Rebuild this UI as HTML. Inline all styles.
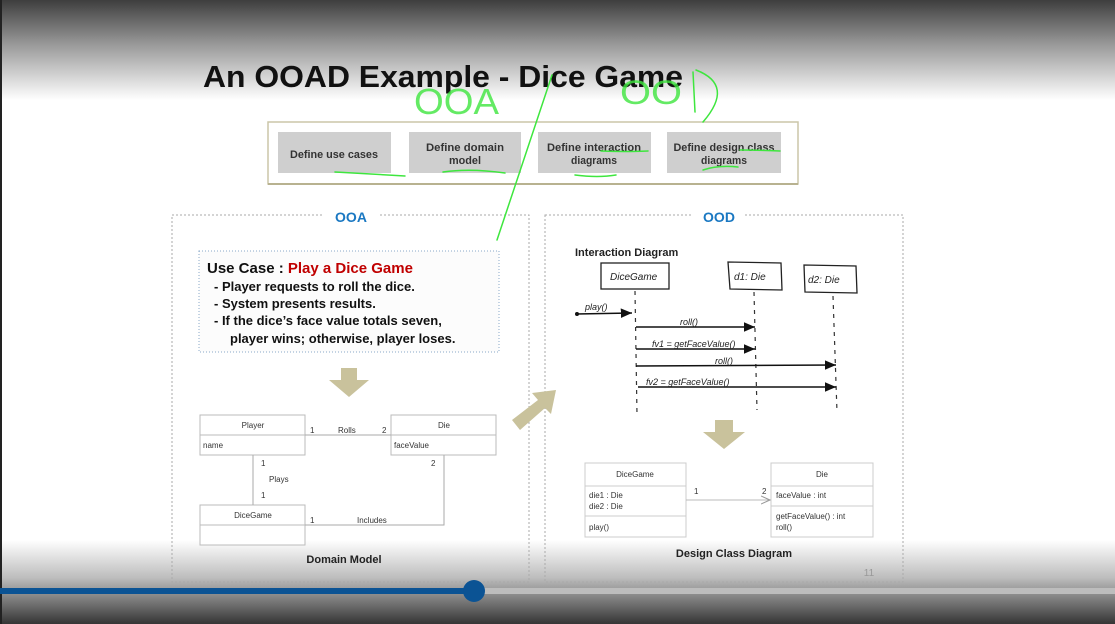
<!DOCTYPE html>
<html><head><meta charset="utf-8"><style>
html,body{margin:0;padding:0;width:1115px;height:624px;overflow:hidden;background:#fff}
svg{display:block}
text{font-family:"Liberation Sans",Arial,sans-serif}
</style></head><body>
<svg width="1115" height="624" viewBox="0 0 1115 624" xmlns="http://www.w3.org/2000/svg">
<defs>
<linearGradient id="top" x1="0" y1="0" x2="0" y2="1">
<stop offset="0" stop-color="#3e3e3e"/><stop offset="0.45" stop-color="#9a9a9a"/><stop offset="1" stop-color="#ffffff"/></linearGradient>
<linearGradient id="bot" x1="0" y1="0" x2="0" y2="1">
<stop offset="0" stop-color="#ffffff"/><stop offset="0.45" stop-color="#bdbdbd"/><stop offset="1" stop-color="#353535"/></linearGradient>
<marker id="ah" markerWidth="8" markerHeight="8" refX="7" refY="4" orient="auto"><path d="M0,1 L7,4 L0,7 Z" fill="#111"/></marker>
<marker id="oa" markerWidth="10" markerHeight="10" refX="9" refY="5" orient="auto"><path d="M0,1 L9,5 L0,9" fill="none" stroke="#999" stroke-width="1"/></marker>
</defs>
<rect x="0" y="0" width="1115" height="100" fill="url(#top)"/>
<rect x="0" y="540" width="1115" height="84" fill="url(#bot)"/>
<rect x="0" y="0" width="2" height="624" fill="#222"/>

<text x="203" y="87" font-size="31" font-weight="bold" fill="#111" textLength="480" lengthAdjust="spacingAndGlyphs">An OOAD Example - Dice Game</text>

<!-- process box -->
<rect x="268" y="122" width="530" height="62" fill="#fff" stroke="#cbc6a8" stroke-width="1.5"/>
<line x1="268" y1="184" x2="798" y2="184" stroke="#b8b290" stroke-width="2"/>
<g fill="#cfcfcf">
<rect x="278" y="132" width="113" height="41"/><rect x="409" y="132" width="112" height="41"/>
<rect x="538" y="132" width="113" height="41"/><rect x="667" y="132" width="114" height="41"/></g>
<g font-size="11" fill="#333" text-anchor="middle" font-weight="bold">
<text x="334" y="158" textLength="88" lengthAdjust="spacingAndGlyphs">Define use cases</text>
<text x="465" y="151" textLength="78" lengthAdjust="spacingAndGlyphs">Define domain</text><text x="465" y="164" textLength="32" lengthAdjust="spacingAndGlyphs">model</text>
<text x="594" y="151" textLength="94" lengthAdjust="spacingAndGlyphs">Define interaction</text><text x="594" y="164" textLength="46" lengthAdjust="spacingAndGlyphs">diagrams</text>
<text x="724" y="151" textLength="101" lengthAdjust="spacingAndGlyphs">Define design class</text><text x="724" y="164" textLength="46" lengthAdjust="spacingAndGlyphs">diagrams</text></g>

<!-- OOA / OOD panels -->
<rect x="172" y="215" width="357" height="367" fill="none" stroke="#aaa" stroke-dasharray="2,2"/>
<rect x="545" y="215" width="358" height="367" fill="none" stroke="#aaa" stroke-dasharray="2,2"/>
<rect x="323" y="205" width="56" height="20" fill="#fff"/><rect x="693" y="205" width="52" height="20" fill="#fff"/>
<text x="351" y="222" font-size="14" font-weight="bold" fill="#1a78c2" text-anchor="middle">OOA</text>
<text x="719" y="222" font-size="14" font-weight="bold" fill="#1a78c2" text-anchor="middle">OOD</text>

<!-- use case -->
<rect x="199" y="251" width="300" height="101" fill="#fcfcfc" stroke="#8aa8c8" stroke-dasharray="1,2"/>
<text x="207" y="273" font-size="15" font-weight="bold" fill="#111">Use Case : <tspan fill="#c00000">Play a Dice Game</tspan></text>
<g font-size="13" font-weight="bold" fill="#111">
<text x="214" y="291">-   Player requests to roll the dice.</text>
<text x="214" y="308">-   System presents results.</text>
<text x="214" y="325">-   If the dice’s face value totals seven,</text>
<text x="230" y="343">player wins; otherwise, player loses.</text></g>

<!-- tan arrows -->
<path d="M341,368 H357 V380 H369 L349,397 L329,380 H341 Z" fill="#c9c29c"/>
<path d="M715,420 H733 V432 H745 L724,449 L703,432 H715 Z" fill="#c9c29c"/>
<path d="M512,420 L538,400 L532,393 L556,390 L551,414 L545,408 L520,430 Z" fill="#c9c29c"/>

<!-- domain model -->
<g fill="#fff" stroke="#bbb">
<rect x="200" y="415" width="105" height="40"/><line x1="200" y1="435" x2="305" y2="435"/>
<rect x="391" y="415" width="105" height="40"/><line x1="391" y1="435" x2="496" y2="435"/>
<rect x="200" y="505" width="105" height="40"/><line x1="200" y1="525" x2="305" y2="525"/></g>
<g stroke="#aaa" fill="none">
<line x1="305" y1="435" x2="391" y2="435"/><line x1="253" y1="455" x2="253" y2="505"/>
<polyline points="305,525 444,525 444,455"/></g>
<g font-size="8" fill="#333">
<text x="253" y="428" text-anchor="middle">Player</text><text x="444" y="428" text-anchor="middle">Die</text>
<text x="253" y="518" text-anchor="middle">DiceGame</text>
<text x="203" y="448">name</text><text x="394" y="448">faceValue</text>
<text x="310" y="433">1</text><text x="338" y="433">Rolls</text><text x="382" y="433">2</text>
<text x="261" y="466">1</text><text x="269" y="482">Plays</text><text x="261" y="498">1</text>
<text x="431" y="466">2</text><text x="310" y="523">1</text><text x="357" y="523">Includes</text></g>
<text x="344" y="563" font-size="11" font-weight="bold" fill="#222" text-anchor="middle">Domain Model</text>

<!-- interaction diagram -->
<text x="575" y="256" font-size="11" font-weight="bold" fill="#222">Interaction Diagram</text>
<g fill="none" stroke="#222" stroke-width="1.3">
<rect x="601" y="263" width="68" height="26"/>
<path d="M728,262 L781,263 L782,290 L730,289 Z"/>
<path d="M804,265 L856,266 L857,293 L805,292 Z"/></g>
<g font-family="Liberation Serif,serif" font-size="10" fill="#222" font-style="italic">
<text x="610" y="280">DiceGame</text><text x="734" y="280">d1: Die</text><text x="808" y="283">d2: Die</text></g>
<g stroke="#333" stroke-dasharray="4,5" stroke-width="1.2">
<line x1="635" y1="291" x2="637" y2="415"/><line x1="754" y1="292" x2="757" y2="410"/><line x1="833" y1="296" x2="837" y2="412"/></g>
<g stroke="#111" stroke-width="1.6" marker-end="url(#ah)">
<line x1="576" y1="314" x2="632" y2="313"/>
<line x1="636" y1="327" x2="755" y2="327"/>
<line x1="636" y1="349" x2="755" y2="349"/>
<line x1="636" y1="366" x2="836" y2="365"/>
<line x1="638" y1="387" x2="836" y2="387"/></g>
<circle cx="577" cy="314" r="2" fill="#111"/>
<g font-family="Liberation Serif,serif" font-size="9" fill="#222" font-style="italic">
<text x="585" y="310">play()</text><text x="680" y="325">roll()</text>
<text x="652" y="347">fv1 = getFaceValue()</text><text x="715" y="364">roll()</text>
<text x="646" y="385">fv2 = getFaceValue()</text></g>

<!-- design class diagram -->
<g fill="#fff" stroke="#ccc">
<rect x="585" y="463" width="101" height="74"/><line x1="585" y1="486" x2="686" y2="486"/><line x1="585" y1="516" x2="686" y2="516"/>
<rect x="771" y="463" width="102" height="74"/><line x1="771" y1="486" x2="873" y2="486"/><line x1="771" y1="506" x2="873" y2="506"/></g>
<line x1="686" y1="500" x2="770" y2="500" stroke="#bbb" marker-end="url(#oa)"/>
<g font-size="8" fill="#333">
<text x="635" y="477" text-anchor="middle">DiceGame</text><text x="822" y="477" text-anchor="middle">Die</text>
<text x="589" y="498">die1 : Die</text><text x="589" y="509">die2 : Die</text><text x="589" y="530">play()</text>
<text x="776" y="498">faceValue : int</text><text x="776" y="519">getFaceValue() : int</text><text x="776" y="530">roll()</text>
<text x="694" y="494">1</text><text x="762" y="494">2</text></g>
<text x="734" y="557" font-size="11" font-weight="bold" fill="#222" text-anchor="middle">Design Class Diagram</text>
<text x="869" y="576" font-size="10" fill="#999" text-anchor="middle">11</text>

<!-- green annotations -->
<g fill="none" stroke="#3ee63e" stroke-width="1.5" stroke-linecap="round">
<path d="M552,75 L497,240"/>
<path d="M335,172 Q370,174 405,176"/><path d="M443,172 Q470,168 505,173"/>
<path d="M575,175 Q598,178 616,175"/><path d="M601,151 Q625,152 648,151"/>
<path d="M703,170 Q718,165 738,167"/><path d="M740,150 Q755,150 780,151"/>
<path d="M696,70 Q735,85 703,122"/><path d="M693,72 L695,112"/></g>
<g fill="#3ee63e" font-family="DejaVu Sans,sans-serif" font-weight="normal" opacity="0.8">
<text x="414" y="114" textLength="85" lengthAdjust="spacingAndGlyphs" font-size="36">OOA</text>
<text x="620" y="104" textLength="62" lengthAdjust="spacingAndGlyphs" font-size="34">OO</text></g>

<!-- progress bar -->
<rect x="0" y="588" width="1115" height="6" fill="#bdbdbd"/>
<rect x="0" y="588" width="474" height="6" fill="#0b5394"/>
<circle cx="474" cy="591" r="11" fill="#0b5394"/>
</svg>
</body></html>
